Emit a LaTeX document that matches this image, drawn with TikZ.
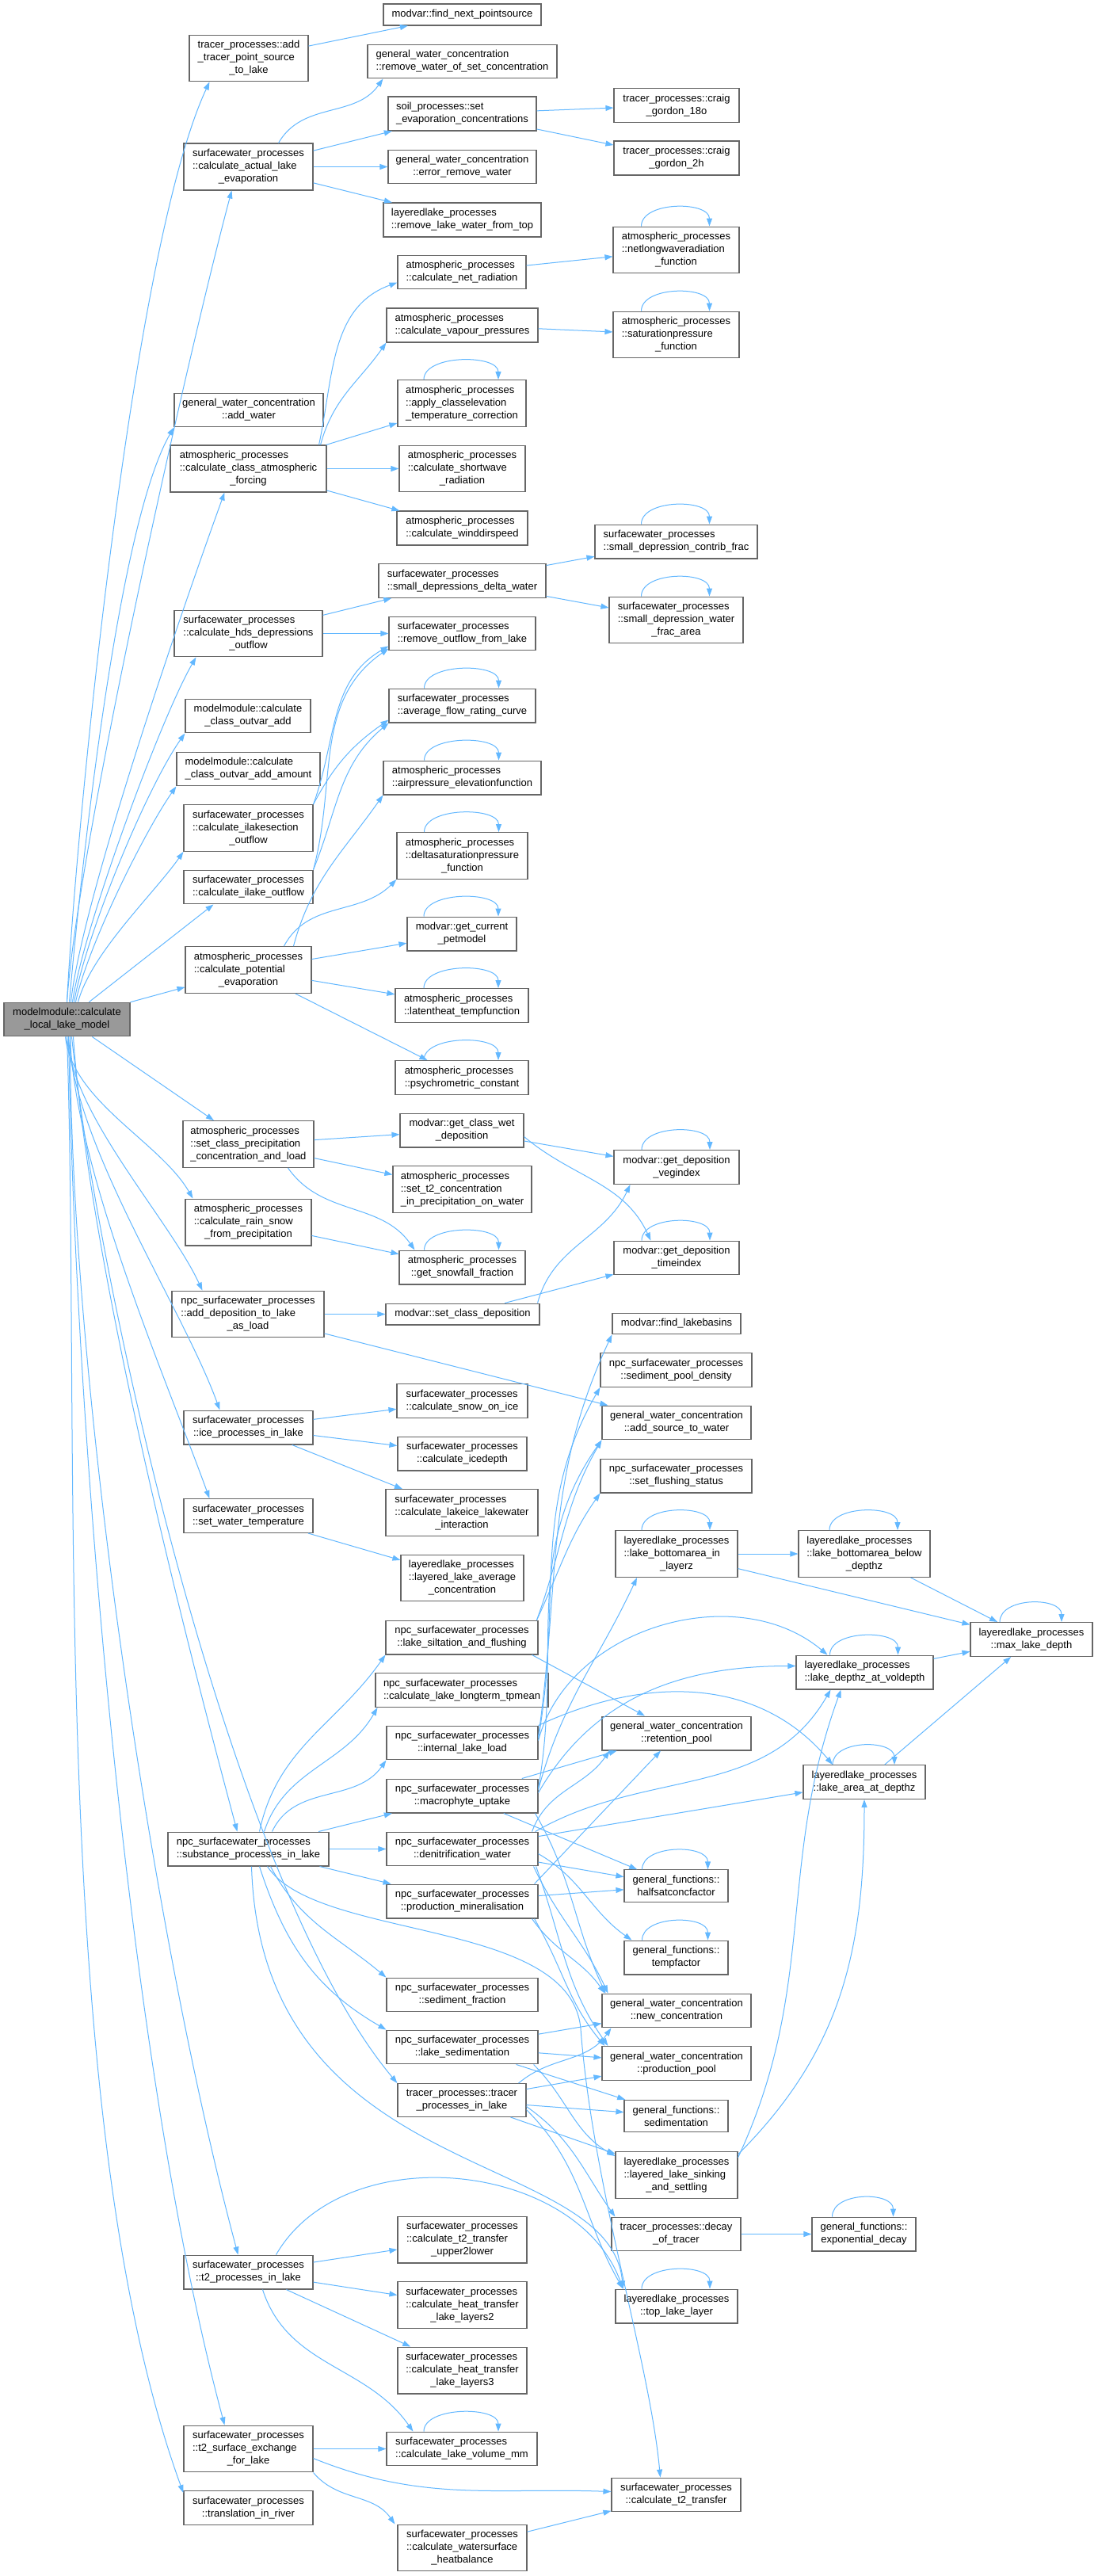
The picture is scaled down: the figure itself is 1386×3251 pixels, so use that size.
\documentclass[tikz,border=0pt]{standalone}
\usepackage{fontspec}
\setmainfont{Liberation Sans}
\usepackage{xcolor}
\usetikzlibrary{arrows.meta}
\definecolor{edgeblue}{HTML}{63B8FF}
\definecolor{boxline}{HTML}{666666}
\definecolor{rootgray}{HTML}{999999}
\newcommand{\lastln}{\null\hfil}

\begin{document}
\begin{tikzpicture}[x=1pt,y=1pt,
  fn/.style={draw=boxline,line width=1.1pt,fill=white,font=\fontsize{13}{16}\selectfont,align=left,inner xsep=3pt,inner ysep=7.4pt},
  rootfn/.style={fn,fill=rootgray},
  call/.style={draw=edgeblue,line width=1pt,-{Triangle[length=10pt,width=7pt]}}]
\fill[white] (0,0) rectangle (1386,-3251);
\useasboundingbox (0,0) rectangle (1386,-3251);

\node[rootfn,minimum width=159pt] (root) at (84.5,-1286.5) {modelmodule::calculate\\\lastln\_local\_lake\_model};%root

% first column
\node[fn,minimum width=150pt] (trAdd) at (314,-73.5) {tracer\_processes::add\\\_tracer\_point\_source\\\lastln\_to\_lake};
\node[fn,minimum width=163pt] (actEvap) at (313.5,-210.5) {surfacewater\_processes\\::calculate\_actual\_lake\\\lastln\_evaporation};
\node[fn,minimum width=188pt] (addWater) at (314,-517.5) {general\_water\_concentration\\\lastln::add\_water};
\node[fn,minimum width=197pt] (atmForce) at (313.5,-591.5) {atmospheric\_processes\\::calculate\_class\_atmospheric\\\lastln\_forcing};
\node[fn,minimum width=187pt] (hds) at (313.5,-799.5) {surfacewater\_processes\\::calculate\_hds\_depressions\\\lastln\_outflow};
\node[fn,minimum width=158pt] (outAdd) at (313,-903.5) {modelmodule::calculate\\\lastln\_class\_outvar\_add};
\node[fn,minimum width=181pt] (outAmount) at (313.5,-970.5) {modelmodule::calculate\\\lastln\_class\_outvar\_add\_amount};
\node[fn,minimum width=163pt] (ilakeSec) at (313.5,-1045) {surfacewater\_processes\\::calculate\_ilakesection\\\lastln\_outflow};
\node[fn,minimum width=163pt] (ilakeOut) at (313.5,-1119.5) {surfacewater\_processes\\\lastln::calculate\_ilake\_outflow};
\node[fn,minimum width=159pt] (potEvap) at (313.5,-1224) {atmospheric\_processes\\::calculate\_potential\\\lastln\_evaporation};
\node[fn,minimum width=165pt] (precip) at (313.5,-1444) {atmospheric\_processes\\::set\_class\_precipitation\\\lastln\_concentration\_and\_load};
\node[fn,minimum width=159pt] (rainSnow) at (313.5,-1542.5) {atmospheric\_processes\\::calculate\_rain\_snow\\\lastln\_from\_precipitation};
\node[fn,minimum width=192pt] (addDep) at (313,-1658.5) {npc\_surfacewater\_processes\\::add\_deposition\_to\_lake\\\lastln\_as\_load};
\node[fn,minimum width=163pt] (iceProc) at (313.5,-1801.5) {surfacewater\_processes\\\lastln::ice\_processes\_in\_lake};
\node[fn,minimum width=163pt] (waterTemp) at (313.5,-1913) {surfacewater\_processes\\\lastln::set\_water\_temperature};
\node[fn,minimum width=203pt] (substance) at (313.5,-2333.5) {npc\_surfacewater\_processes\\\lastln::substance\_processes\_in\_lake};
\node[fn,minimum width=163pt] (t2Proc) at (313.5,-2867.5) {surfacewater\_processes\\\lastln::t2\_processes\_in\_lake};
\node[fn,minimum width=163pt] (t2Surf) at (313.5,-3090.5) {surfacewater\_processes\\::t2\_surface\_exchange\\\lastln\_for\_lake};
\node[fn,minimum width=163pt] (river) at (313.5,-3165) {surfacewater\_processes\\\lastln::translation\_in\_river};

% second column
\node[fn,minimum width=199pt] (findNext) at (583.5,-18.5) {\lastln modvar::find\_next\_pointsource};
\node[fn,minimum width=239pt] (rmWaterSet) at (583.5,-77.5) {general\_water\_concentration\\\lastln::remove\_water\_of\_set\_concentration};
\node[fn,minimum width=187pt] (soilEvap) at (583.5,-143.5) {soil\_processes::set\\\lastln\_evaporation\_concentrations};
\node[fn,minimum width=187pt] (errRemove) at (583.5,-210.5) {general\_water\_concentration\\\lastln::error\_remove\_water};
\node[fn,minimum width=199pt] (rmTop) at (583.5,-277.5) {layeredlake\_processes\\\lastln::remove\_lake\_water\_from\_top};
\node[fn,minimum width=162pt] (netRad) at (583,-343.5) {atmospheric\_processes\\\lastln::calculate\_net\_radiation};
\node[fn,minimum width=191pt] (vapour) at (583.5,-410.5) {atmospheric\_processes\\\lastln::calculate\_vapour\_pressures};
\node[fn,minimum width=162pt] (classElev) at (583,-509) {atmospheric\_processes\\::apply\_classelevation\\\lastln\_temperature\_correction};
\node[fn,minimum width=159pt] (shortwave) at (583.5,-591.5) {atmospheric\_processes\\::calculate\_shortwave\\\lastln\_radiation};
\node[fn,minimum width=165pt] (wind) at (583.5,-666.5) {atmospheric\_processes\\\lastln::calculate\_winddirspeed};
\node[fn,minimum width=211pt] (smallDelta) at (583.5,-733) {surfacewater\_processes\\\lastln::small\_depressions\_delta\_water};
\node[fn,minimum width=185pt] (rmOutflow) at (583.5,-799.5) {surfacewater\_processes\\\lastln::remove\_outflow\_from\_lake};
\node[fn,minimum width=185pt] (avgFlow) at (583.5,-890.5) {surfacewater\_processes\\\lastln::average\_flow\_rating\_curve};
\node[fn,minimum width=199pt] (airPress) at (583.5,-981.5) {atmospheric\_processes\\\lastln::airpressure\_elevationfunction};
\node[fn,minimum width=165pt] (deltaSat) at (583.5,-1080) {atmospheric\_processes\\::deltasaturationpressure\\\lastln\_function};
\node[fn,minimum width=138pt] (petModel) at (583,-1178.5) {modvar::get\_current\\\lastln\_petmodel};
\node[fn,minimum width=168pt] (latent) at (583,-1269) {atmospheric\_processes\\\lastln::latentheat\_tempfunction};
\node[fn,minimum width=168pt] (psychro) at (583,-1360) {atmospheric\_processes\\\lastln::psychrometric\_constant};
\node[fn,minimum width=156pt] (wetDep) at (583,-1426.5) {modvar::get\_class\_wet\\\lastln\_deposition};
\node[fn,minimum width=175pt] (t2Conc) at (583.5,-1501) {atmospheric\_processes\\::set\_t2\_concentration\\\lastln\_in\_precipitation\_on\_water};
\node[fn,minimum width=159pt] (snowfall) at (583.5,-1599.5) {atmospheric\_processes\\\lastln::get\_snowfall\_fraction};
\node[fn,minimum width=194pt] (setDep) at (584,-1658.5) {\lastln modvar::set\_class\_deposition};
\node[fn,minimum width=165pt] (snowIce) at (583.5,-1768) {surfacewater\_processes\\\lastln::calculate\_snow\_on\_ice};
\node[fn,minimum width=163pt] (iceDepth) at (583.5,-1834.5) {surfacewater\_processes\\\lastln::calculate\_icedepth};
\node[fn,minimum width=192pt] (lakeIce) at (583,-1909) {surfacewater\_processes\\::calculate\_lakeice\_lakewater\\\lastln\_interaction};
\node[fn,minimum width=155pt] (avgConc) at (583.5,-1991.5) {layeredlake\_processes\\::layered\_lake\_average\\\lastln\_concentration};
\node[fn,minimum width=192pt] (silt) at (583,-2066.5) {npc\_surfacewater\_processes\\\lastln::lake\_siltation\_and\_flushing};
\node[fn,minimum width=218pt] (tpmean) at (583,-2133) {npc\_surfacewater\_processes\\\lastln::calculate\_lake\_longterm\_tpmean};
\node[fn,minimum width=191pt] (internalLoad) at (583.5,-2199.5) {npc\_surfacewater\_processes\\\lastln::internal\_lake\_load};
\node[fn,minimum width=191pt] (macrophyte) at (583.5,-2266.5) {npc\_surfacewater\_processes\\\lastln::macrophyte\_uptake};
\node[fn,minimum width=191pt] (denit) at (583.5,-2333.5) {npc\_surfacewater\_processes\\\lastln::denitrification\_water};
\node[fn,minimum width=191pt] (prodMin) at (583.5,-2399.5) {npc\_surfacewater\_processes\\\lastln::production\_mineralisation};
\node[fn,minimum width=191pt] (sedFrac) at (583.5,-2517.5) {npc\_surfacewater\_processes\\\lastln::sediment\_fraction};
\node[fn,minimum width=191pt] (lakeSed) at (583.5,-2583.5) {npc\_surfacewater\_processes\\\lastln::lake\_sedimentation};
\node[fn,minimum width=162pt] (tracerLake) at (583,-2650.5) {tracer\_processes::tracer\\\lastln\_processes\_in\_lake};
\node[fn,minimum width=163pt] (upper2lower) at (583.5,-2826.5) {surfacewater\_processes\\::calculate\_t2\_transfer\\\lastln\_upper2lower};
\node[fn,minimum width=163pt] (heat2) at (583.5,-2909) {surfacewater\_processes\\::calculate\_heat\_transfer\\\lastln\_lake\_layers2};
\node[fn,minimum width=163pt] (heat3) at (583.5,-2991.5) {surfacewater\_processes\\::calculate\_heat\_transfer\\\lastln\_lake\_layers3};
\node[fn,minimum width=190pt] (volumeMm) at (583,-3090.5) {surfacewater\_processes\\\lastln::calculate\_lake\_volume\_mm};
\node[fn,minimum width=163pt] (heatBal) at (583.5,-3215.5) {surfacewater\_processes\\::calculate\_watersurface\\\lastln\_heatbalance};

% third column
\node[fn,minimum width=158pt] (craig18) at (854,-133) {tracer\_processes::craig\\\lastln\_gordon\_18o};
\node[fn,minimum width=158pt] (craig2h) at (854,-199.5) {tracer\_processes::craig\\\lastln\_gordon\_2h};
\node[fn,minimum width=159pt] (netLong) at (853.5,-315.5) {atmospheric\_processes\\::netlongwaveradiation\\\lastln\_function};
\node[fn,minimum width=159pt] (satPress) at (853.5,-422.5) {atmospheric\_processes\\::saturationpressure\\\lastln\_function};
\node[fn,minimum width=205pt] (smallFrac) at (853.5,-683.5) {surfacewater\_processes\\\lastln::small\_depression\_contrib\_frac};
\node[fn,minimum width=169pt] (smallArea) at (853.5,-782.5) {surfacewater\_processes\\::small\_depression\_water\\\lastln\_frac\_area};
\node[fn,minimum width=158pt] (vegIdx) at (854,-1473) {modvar::get\_deposition\\\lastln\_vegindex};
\node[fn,minimum width=158pt] (timeIdx) at (854,-1587.5) {modvar::get\_deposition\\\lastln\_timeindex};
\node[fn,minimum width=162pt] (findBasins) at (854,-1670.5) {\lastln modvar::find\_lakebasins};
\node[fn,minimum width=191pt] (sedPool) at (853.5,-1729) {npc\_surfacewater\_processes\\\lastln::sediment\_pool\_density};
\node[fn,minimum width=188pt] (addSource) at (854,-1795.5) {general\_water\_concentration\\\lastln::add\_source\_to\_water};
\node[fn,minimum width=191pt] (flushing) at (853.5,-1862.5) {npc\_surfacewater\_processes\\\lastln::set\_flushing\_status};
\node[fn,minimum width=154pt] (bottomIn) at (854,-1961) {layeredlake\_processes\\::lake\_bottomarea\_in\\\lastln\_layerz};
\node[fn,minimum width=188pt] (retention) at (854,-2187.5) {general\_water\_concentration\\\lastln::retention\_pool};
\node[fn,minimum width=131pt] (halfsat) at (853.5,-2380) {general\_functions::\\\lastln halfsatconcfactor};
\node[fn,minimum width=131pt] (tempfactor) at (853.5,-2470.5) {general\_functions::\\\lastln tempfactor};
\node[fn,minimum width=188pt] (newConc) at (854,-2537.5) {general\_water\_concentration\\\lastln::new\_concentration};
\node[fn,minimum width=188pt] (prodPool) at (854,-2604) {general\_water\_concentration\\\lastln::production\_pool};
\node[fn,minimum width=131pt] (sedimentation) at (853.5,-2670.5) {general\_functions::\\\lastln sedimentation};
\node[fn,minimum width=154pt] (sinking) at (854,-2745) {layeredlake\_processes\\::layered\_lake\_sinking\\\lastln\_and\_settling};
\node[fn,minimum width=163pt] (decay) at (853.5,-2819.5) {tracer\_processes::decay\\\lastln\_of\_tracer};
\node[fn,minimum width=154pt] (topLayer) at (854,-2910.5) {layeredlake\_processes\\\lastln::top\_lake\_layer};
\node[fn,minimum width=163pt] (t2Transfer) at (853.5,-3148.5) {surfacewater\_processes\\\lastln::calculate\_t2\_transfer};

% fourth and fifth column
\node[fn,minimum width=166pt] (bottomBelow) at (1091,-1961) {layeredlake\_processes\\::lake\_bottomarea\_below\\\lastln\_depthz};
\node[fn,minimum width=173pt] (depthVol) at (1091.5,-2110.5) {layeredlake\_processes\\\lastln::lake\_depthz\_at\_voldepth};
\node[fn,minimum width=154pt] (areaDepth) at (1091,-2249) {layeredlake\_processes\\\lastln::lake\_area\_at\_depthz};
\node[fn,minimum width=131pt] (expDecay) at (1090.5,-2819.5) {general\_functions::\\\lastln exponential\_decay};
\node[fn,minimum width=154pt] (maxDepth) at (1302,-2069) {layeredlake\_processes\\\lastln::max\_lake\_depth};

% calls from the root
\draw[call] (root.north) .. controls +(87:230) and +(245:230) .. ([xshift=26pt]trAdd.south west);
\draw[call] (root.north) .. controls +(86:205) and +(255:205) .. ([xshift=-21pt]actEvap.south);
\draw[call] ([xshift=3pt]root.north) .. controls +(85:145) and +(240:145) .. (addWater.south west);
\draw[call] ([xshift=5pt]root.north) .. controls +(84:132) and +(250:132) .. ([xshift=-30pt]atmForce.south);
\draw[call] ([xshift=7pt]root.north) .. controls +(82:91) and +(240:91) .. ([xshift=28pt]hds.south west);
\draw[call] ([xshift=9pt]root.north) .. controls +(80:86) and +(235:86) .. (outAdd.south west);
\draw[call] ([xshift=11pt]root.north) .. controls +(78:71) and +(235:71) .. (outAmount.south west);
\draw[call] ([xshift=14pt]root.north) .. controls +(75:64) and +(235:64) .. (ilakeSec.south west);
\draw[call] (root) -- ([xshift=38pt]ilakeOut.south west);
\draw[call] (root) -- (potEvap);
\draw[call] (root) -- (precip);
\draw[call] ([xshift=-2pt]root.south) .. controls +(-84:82) and +(120:82) .. ([xshift=10pt]rainSnow.north west);
\draw[call] (root.south) .. controls +(-86:100) and +(115:100) .. ([xshift=39pt]addDep.north west);
\draw[call] ([xshift=2pt]root.south) .. controls +(-87:139) and +(110:139) .. ([xshift=46pt]iceProc.north west);
\draw[call] ([xshift=4pt]root.south) .. controls +(-88:167) and +(110:167) .. ([xshift=33pt]waterTemp.north west);
\draw[call] ([xshift=8pt]root.south) .. controls +(-86:281) and +(105:281) .. ([xshift=-14pt]substance.north);
\draw[call] ([xshift=6pt]root.south) .. controls +(-84:325) and +(130:325) .. (tracerLake.north west);
\draw[call] ([xshift=4pt]root.south) .. controls +(-90:425) and +(105:425) .. ([xshift=-13pt]t2Proc.north);
\draw[call] ([xshift=2pt]root.south) .. controls +(-89:483) and +(105:483) .. ([xshift=-30pt]t2Surf.north);
\draw[call] (root.south) .. controls +(-88:505) and +(110:505) .. ([yshift=-3pt]river.north west);

% evaporation
\draw[call] (trAdd) -- (findNext);
\draw[call] ([xshift=38pt]actEvap.north) .. controls +(60:61) and +(235:61) .. ([xshift=20pt]rmWaterSet.south west);
\draw[call] (actEvap) -- (soilEvap);
\draw[call] (actEvap) -- (errRemove);
\draw[call] (actEvap) -- (rmTop);
\draw[call] (soilEvap) -- (craig18);
\draw[call] (soilEvap) -- (craig2h);

% atmospheric forcing
\draw[call] ([xshift=-10pt]atmForce.north east) .. controls +(78:90) and +(200:90) .. ([yshift=-13pt]netRad.west);
\draw[call] ([xshift=-8pt]atmForce.north east) .. controls +(75:61) and +(235:61) .. (vapour.south west);
\draw[call] (atmForce) -- (classElev);
\draw[call] (atmForce) -- (shortwave);
\draw[call] (atmForce) -- (wind);
\draw[call] (netRad) -- (netLong);
\draw[call] (vapour) -- (satPress);

% depressions and outflow
\draw[call] (hds) -- (smallDelta);
\draw[call] (hds) -- (rmOutflow);
\draw[call] (smallDelta) -- (smallFrac);
\draw[call] (smallDelta) -- (smallArea);
\draw[call] (ilakeSec.north east) .. controls +(70:87) and +(210:87) .. ([yshift=6pt]rmOutflow.south west);
\draw[call] (ilakeSec.north east) .. controls +(62:56) and +(215:56) .. ([yshift=4pt]avgFlow.south west);
\draw[call] (ilakeOut.north east) .. controls +(75:116) and +(215:116) .. ([yshift=3pt]rmOutflow.south west);
\draw[call] (ilakeOut.north east) .. controls +(68:82) and +(220:82) .. (avgFlow.south west);

% potential evaporation
\draw[call] ([xshift=45pt]potEvap.north) .. controls +(62:65) and +(225:65) .. (deltaSat.south west);
\draw[call] ([xshift=57pt]potEvap.north) .. controls +(75:87) and +(235:87) .. (airPress.south west);
\draw[call] (potEvap) -- (petModel);
\draw[call] (potEvap) -- (latent);
\draw[call] (potEvap) -- (psychro);

% precipitation and deposition
\draw[call] (precip) -- (wetDep);
\draw[call] (precip) -- (t2Conc);
\draw[call] ([xshift=50pt]precip.south) .. controls +(-55:75) and +(125:75) .. ([xshift=20pt]snowfall.north west);
\draw[call] (rainSnow) -- (snowfall);
\draw[call] (wetDep) -- (vegIdx);
\draw[call] ([yshift=-8pt]wetDep.east) .. controls +(-40:81) and +(115:81) .. ([xshift=47pt]timeIdx.north west);
\draw[call] (addDep) -- (setDep);
\draw[call] (addDep) -- (addSource);
\draw[call] ([xshift=-3pt]setDep.north east) .. controls +(75:75) and +(245:75) .. ([xshift=21pt]vegIdx.south west);
\draw[call] (setDep) -- (timeIdx);

% ice and water temperature
\draw[call] (iceProc) -- (snowIce);
\draw[call] (iceProc) -- (iceDepth);
\draw[call] (iceProc) -- (lakeIce);
\draw[call] (waterTemp) -- (avgConc);

% siltation, internal load, macrophytes
\draw[call] ([xshift=-2pt]silt.north east) .. controls +(70:95) and +(240:95) .. (addSource.south west);
\draw[call] ([xshift=-2pt]silt.north east) .. controls +(65:70) and +(235:70) .. (flushing.south west);
\draw[call] ([xshift=-8pt]silt.south east) -- ([xshift=-40pt]retention.north);
\draw[call] ([yshift=8pt]internalLoad.east) .. controls +(82:202) and +(245:202) .. (findBasins.south west);
\draw[call] ([yshift=6pt]internalLoad.east) .. controls +(80:176) and +(240:176) .. (sedPool.south west);
\draw[call] (internalLoad.north east) .. controls +(25:147) and +(130:147) .. ([xshift=-40pt]areaDepth.north);
\draw[call] ([yshift=3pt]internalLoad.east) .. controls +(75:149) and +(140:149) .. ([xshift=-47pt]depthVol.north);
\draw[call] ([yshift=10pt]macrophyte.east) .. controls +(80:175) and +(235:175) .. (addSource.south west);
\draw[call] ([yshift=8pt]macrophyte.east) .. controls +(75:115) and +(245:115) .. ([xshift=-50pt]bottomIn.south);
\draw[call] ([yshift=4pt]macrophyte.east) .. controls +(60:142) and +(180:142) .. ([yshift=8pt]depthVol.west);
\draw[call] (macrophyte) -- (retention);
\draw[call] (macrophyte) -- (halfsat);
\draw[call] ([xshift=-4pt]macrophyte.south east) .. controls +(-60:96) and +(115:96) .. ([xshift=5pt]newConc.north west);

% denitrification and mineralisation
\draw[call] ([xshift=-8pt]denit.north east) .. controls +(70:56) and +(235:56) .. ([xshift=10pt]retention.south west);
\draw[call] ([xshift=-4pt]denit.north east) .. controls +(30:162) and +(240:162) .. ([xshift=-43pt]depthVol.south);
\draw[call] (denit) -- (areaDepth);
\draw[call] (denit) -- (halfsat);
\draw[call] ([yshift=-6pt]denit.east) .. controls +(-30:63) and +(145:63) .. ([xshift=10pt]tempfactor.north west);
\draw[call] ([xshift=-6pt]denit.south east) .. controls +(-65:73) and +(115:73) .. ([xshift=8pt]newConc.north west);
\draw[call] ([xshift=-3pt]denit.south east) .. controls +(-70:96) and +(125:96) .. ([xshift=8pt]prodPool.north west);
\draw[call] ([xshift=-5pt]prodMin.north east) -- ([xshift=-20pt]retention.south);
\draw[call] (prodMin) -- (halfsat);
\draw[call] ([xshift=-8pt]prodMin.south east) .. controls +(-55:52) and +(125:52) .. ([xshift=4pt]newConc.north west);
\draw[call] ([xshift=-5pt]prodMin.south east) .. controls +(-60:72) and +(130:72) .. ([xshift=4pt]prodPool.north west);

% sedimentation and tracer
\draw[call] (lakeSed) -- (newConc);
\draw[call] (lakeSed) -- (prodPool);
\draw[call] (lakeSed) -- (sedimentation);
\draw[call] ([xshift=-6pt]lakeSed.south east) .. controls +(-45:61) and +(150:61) .. ([yshift=-6pt]sinking.north west);
\draw[call] ([xshift=-10pt]tracerLake.north east) .. controls +(40:54) and +(235:54) .. ([xshift=12pt]newConc.south west);
\draw[call] (tracerLake) -- (prodPool);
\draw[call] (tracerLake) -- (sedimentation);
\draw[call] (tracerLake) -- (sinking);
\draw[call] ([yshift=-8pt]tracerLake.east) .. controls +(-35:70) and +(125:70) .. ([xshift=5pt]decay.north west);
\draw[call] ([yshift=-12pt]tracerLake.east) .. controls +(-45:101) and +(120:101) .. ([xshift=10pt]topLayer.north west);
\draw[call] (decay) -- (expDecay);

% substance processes
\draw[call] ([xshift=14pt]substance.north) .. controls +(78:108) and +(235:108) .. (silt.south west);
\draw[call] ([xshift=20pt]substance.north) .. controls +(72:83) and +(240:83) .. ([xshift=3pt]tpmean.south west);
\draw[call] ([xshift=30pt]substance.north) .. controls +(65:67) and +(235:67) .. (internalLoad.south west);
\draw[call] (substance) -- (macrophyte);
\draw[call] (substance) -- (denit);
\draw[call] (substance) -- (prodMin);
\draw[call] ([xshift=28pt]substance.south) .. controls +(-62:80) and +(140:80) .. (sedFrac.north west);
\draw[call] ([xshift=14pt]substance.south) .. controls +(-72:103) and +(150:103) .. (lakeSed.north west);
\draw[call] ([xshift=4pt]substance.south) .. controls (330,-2760) and (770,-2710) .. ([xshift=10pt]topLayer.north west);
\draw[call] ([xshift=24pt]substance.south) .. controls (400,-2450) and (720,-2420) .. (733,-2560) .. controls (748,-2760) and (820,-2980) .. ([xshift=-20pt]t2Transfer.north);

% layered lake
\draw[call] ([yshift=-4pt]sinking.north east) .. controls +(45:187) and +(-90:187) .. (areaDepth.south);
\draw[call] ([yshift=-8pt]sinking.north east) .. controls +(65:237) and +(-110:237) .. ([xshift=-30pt]depthVol.south);
\draw[call] (bottomIn) -- (bottomBelow);
\draw[call] (bottomIn) -- (maxDepth);
\draw[call] (bottomBelow) -- (maxDepth);
\draw[call] (depthVol) -- (maxDepth);
\draw[call] (areaDepth) -- (maxDepth);

% lake temperature
\draw[call] (t2Proc) -- (upper2lower);
\draw[call] (t2Proc) -- (heat2);
\draw[call] (t2Proc) -- (heat3);
\draw[call] ([xshift=18pt]t2Proc.south) .. controls +(-72:103) and +(125:103) .. ([xshift=34pt]volumeMm.north west);
\draw[call] ([xshift=35pt]t2Proc.north) .. controls +(60:172) and +(110:172) .. ([xshift=10pt]topLayer.north west);
\draw[call] (t2Surf) -- (volumeMm);
\draw[call] ([yshift=-12pt]t2Surf.east) .. controls +(-22:148) and +(178:148) .. ([yshift=4pt]t2Transfer.west);
\draw[call] (t2Surf.south east) .. controls +(-50:48) and +(125:48) .. ([xshift=-3pt]heatBal.north west);
\draw[call] (heatBal) -- (t2Transfer);

% recursive calls
\draw[call] ([xshift=-44pt]netLong.north) .. controls +(90:32) and +(90:32) .. ([xshift=42pt]netLong.north);
\draw[call] ([xshift=-44pt]satPress.north) .. controls +(90:32) and +(90:32) .. ([xshift=42pt]satPress.north);
\draw[call] ([xshift=-48pt]classElev.north) .. controls +(90:32) and +(90:32) .. ([xshift=46pt]classElev.north);
\draw[call] ([xshift=-44pt]smallFrac.north) .. controls +(90:32) and +(90:32) .. ([xshift=42pt]smallFrac.north);
\draw[call] ([xshift=-44pt]smallArea.north) .. controls +(90:32) and +(90:32) .. ([xshift=42pt]smallArea.north);
\draw[call] ([xshift=-48pt]avgFlow.north) .. controls +(90:32) and +(90:32) .. ([xshift=46pt]avgFlow.north);
\draw[call] ([xshift=-48pt]airPress.north) .. controls +(90:32) and +(90:32) .. ([xshift=46pt]airPress.north);
\draw[call] ([xshift=-48pt]deltaSat.north) .. controls +(90:32) and +(90:32) .. ([xshift=46pt]deltaSat.north);
\draw[call] ([xshift=-48pt]petModel.north) .. controls +(90:32) and +(90:32) .. ([xshift=46pt]petModel.north);
\draw[call] ([xshift=-48pt]latent.north) .. controls +(90:32) and +(90:32) .. ([xshift=46pt]latent.north);
\draw[call] ([xshift=-48pt]psychro.north) .. controls +(90:32) and +(90:32) .. ([xshift=46pt]psychro.north);
\draw[call] ([xshift=-48pt]snowfall.north) .. controls +(90:32) and +(90:32) .. ([xshift=46pt]snowfall.north);
\draw[call] ([xshift=-44pt]vegIdx.north) .. controls +(90:32) and +(90:32) .. ([xshift=42pt]vegIdx.north);
\draw[call] ([xshift=-44pt]timeIdx.north) .. controls +(90:32) and +(90:32) .. ([xshift=42pt]timeIdx.north);
\draw[call] ([xshift=-44pt]bottomIn.north) .. controls +(90:32) and +(90:32) .. ([xshift=42pt]bottomIn.north);
\draw[call] ([xshift=-44pt]bottomBelow.north) .. controls +(90:32) and +(90:32) .. ([xshift=42pt]bottomBelow.north);
\draw[call] ([xshift=-40pt]maxDepth.north) .. controls +(90:32) and +(90:32) .. ([xshift=38pt]maxDepth.north);
\draw[call] ([xshift=-44pt]depthVol.north) .. controls +(90:32) and +(90:32) .. ([xshift=42pt]depthVol.north);
\draw[call] ([xshift=-40pt]areaDepth.north) .. controls +(90:32) and +(90:32) .. ([xshift=38pt]areaDepth.north);
\draw[call] ([xshift=-43pt]halfsat.north) .. controls +(90:32) and +(90:32) .. ([xshift=40pt]halfsat.north);
\draw[call] ([xshift=-43pt]tempfactor.north) .. controls +(90:32) and +(90:32) .. ([xshift=40pt]tempfactor.north);
\draw[call] ([xshift=-40pt]expDecay.north) .. controls +(90:32) and +(90:32) .. ([xshift=37pt]expDecay.north);
\draw[call] ([xshift=-44pt]topLayer.north) .. controls +(90:32) and +(90:32) .. ([xshift=42pt]topLayer.north);
\draw[call] ([xshift=-48pt]volumeMm.north) .. controls +(90:32) and +(90:32) .. ([xshift=46pt]volumeMm.north);
\end{tikzpicture}
\end{document}
